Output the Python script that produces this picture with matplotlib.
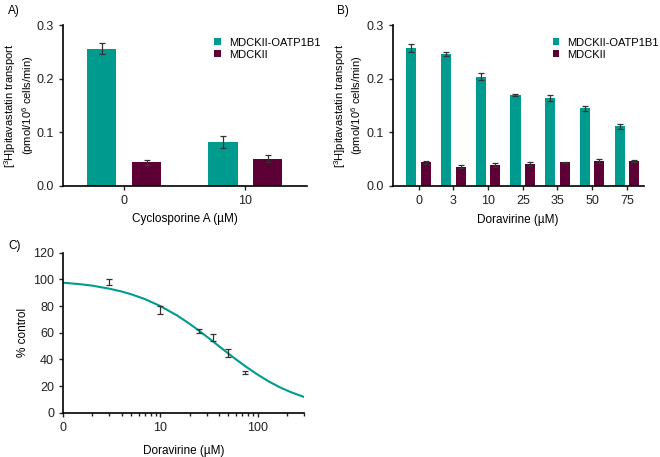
import numpy as np
import matplotlib.pyplot as plt
from matplotlib.ticker import LogLocator, NullFormatter

plt.rcParams['font.family'] = ['Liberation Sans', 'DejaVu Sans']
plt.rcParams['mathtext.fontset'] = 'custom'
plt.rcParams['mathtext.rm'] = 'Liberation Sans'
plt.rcParams['mathtext.it'] = 'Liberation Sans'
plt.rcParams['font.size'] = 8

teal = '#009b8f'
maroon = '#5c0036'
errc = '#333333'

# panel A
csa_labels = ['0', '10']
csa_oatp = [0.256, 0.082]
csa_oatp_err = [0.010, 0.012]
csa_mdck = [0.044, 0.051]
csa_mdck_err = [0.004, 0.006]

# panel B
dor_labels = ['0', '3', '10', '25', '35', '50', '75']
dor_oatp = [0.257, 0.246, 0.204, 0.170, 0.164, 0.145, 0.111]
dor_oatp_err = [0.007, 0.003, 0.006, 0.002, 0.005, 0.005, 0.004]
dor_mdck = [0.044, 0.036, 0.039, 0.041, 0.044, 0.047, 0.047]
dor_mdck_err = [0.003, 0.003, 0.004, 0.004, 0.001, 0.004, 0.002]

# panel C
conc = [3, 10, 25, 35, 50, 75]
pct = [98, 77, 61, 56.5, 45, 30]
pct_err = [2, 3, 1.5, 2.5, 3, 1]
fit_x = [1, 1.5, 2, 3, 4, 5, 7, 10, 15, 20, 25, 30, 40, 50, 60, 75, 100, 130, 170, 220, 300]
fit_y = [97.5, 96.4, 95.3, 93.0, 90.9, 88.9, 85.1, 80.0, 72.8, 66.7, 61.5, 57.1, 50.0, 44.4, 40.0, 34.8, 28.6, 23.5, 19.0, 15.4, 11.8]

ylab = '[$^3$H]pitavastatin transport\n(pmol/10$^6$ cells/min)'

fig = plt.figure(figsize=(6.6, 4.57), dpi=100)


def style(ax):
    for s in ['top', 'right']:
        ax.spines[s].set_visible(False)
    for s in ['left', 'bottom']:
        ax.spines[s].set_linewidth(1.2)
    ax.tick_params(direction='out', length=3, width=1, colors='#222222', labelsize=9)


def bars(ax, labels, a, ae, b, be, off, w, legpos):
    x = np.arange(len(labels))
    ax.bar(x - off, a, w, color=teal, label='MDCKII-OATP1B1')
    ax.bar(x + off, b, w, color=maroon, label='MDCKII')
    ax.errorbar(x - off, a, yerr=ae, fmt='none', ecolor=errc, elinewidth=0.9, capsize=2.5, capthick=0.9)
    ax.errorbar(x + off, b, yerr=be, fmt='none', ecolor=errc, elinewidth=0.9, capsize=2.5, capthick=0.9)
    ax.set_xticks(x)
    ax.set_xticklabels(labels)
    ax.set_ylim(0, 0.3)
    ax.set_yticks([0, 0.1, 0.2, 0.3])
    ax.set_yticklabels(['0.0', '0.1', '0.2', '0.3'])
    ax.set_ylabel(ylab, fontsize=8, linespacing=1.15)
    ax.legend(loc='upper right', bbox_to_anchor=legpos, frameon=False, fontsize=8,
              handlelength=0.6, handleheight=0.6, handletextpad=0.7, labelspacing=0.2)
    style(ax)


axA = fig.add_axes([0.0955, 0.593, 0.370, 0.352])
bars(axA, csa_labels, csa_oatp, csa_oatp_err, csa_mdck, csa_mdck_err, 0.185, 0.24, (1.094, 0.985))
axA.set_xlim(-0.504, 1.51)
axA.set_xlabel('Cyclosporine A (µM)', fontsize=8.5)
axA.yaxis.set_label_coords(-0.112, 0.5)
axA.xaxis.set_label_coords(0.5, -0.17)

axB = fig.add_axes([0.595, 0.593, 0.380, 0.352])
bars(axB, dor_labels, dor_oatp, dor_oatp_err, dor_mdck, dor_mdck_err, 0.21, 0.29, (1.10, 0.985))
axB.set_xlim(-0.75, 6.48)
axB.set_xlabel('Doravirine (µM)', fontsize=8.5)
axB.yaxis.set_label_coords(-0.11, 0.5)
axB.xaxis.set_label_coords(0.5, -0.175)

axC = fig.add_axes([0.0955, 0.097, 0.365, 0.350])
axC.plot(fit_x, fit_y, color=teal, lw=1.5)
axC.errorbar(conc, pct, yerr=pct_err, fmt='none', ecolor=errc, elinewidth=0.9, capsize=2.5, capthick=0.9)
axC.set_xscale('log')
axC.set_xlim(1, 300)
axC.set_xticks([1, 10, 100])
axC.set_xticklabels(['0', '10', '100'])
axC.xaxis.set_minor_locator(LogLocator(base=10, subs=np.arange(2, 10)))
axC.xaxis.set_minor_formatter(NullFormatter())
axC.set_ylim(0, 120)
axC.set_yticks(range(0, 121, 20))
axC.set_ylabel('% control', fontsize=8.5)
axC.set_xlabel('Doravirine (µM)', fontsize=8.5)
style(axC)
axC.tick_params(which='minor', length=2.5, width=1, colors='#222222')
axC.yaxis.set_label_coords(-0.14, 0.5)
axC.xaxis.set_label_coords(0.5, -0.2)

fig.text(0.012, 0.975, 'A)', fontsize=8.5, va='center')
fig.text(0.511, 0.975, 'B)', fontsize=8.5, va='center')
fig.text(0.012, 0.462, 'C)', fontsize=8.5, va='center')

fig.savefig('out.png', dpi=100)
